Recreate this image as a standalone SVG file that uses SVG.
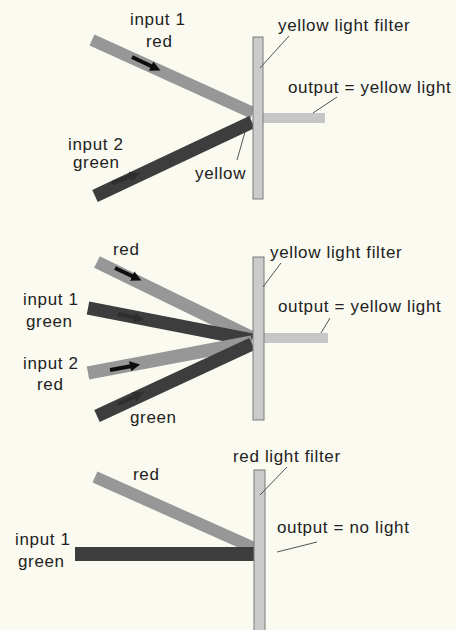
<svg xmlns="http://www.w3.org/2000/svg" width="456" height="630" viewBox="0 0 456 630">
<defs>
<style>
text{font-family:"Liberation Sans",Arial,sans-serif;font-size:17px;letter-spacing:0.65px;fill:#222}
.red{stroke:#979797;stroke-width:12;fill:none}
.grn{stroke:#3c3c3c;stroke-width:13;fill:none}
.out{stroke:#c6c6c6;stroke-width:10;fill:none}
.filter{fill:#cbcbcb;stroke:#7a7a7a;stroke-width:1}
.lead{stroke:#555;stroke-width:1;fill:none}
.arr{stroke:#111;stroke-width:4;fill:none;marker-end:url(#ah)}
.arrd{stroke:#2e2e2e;stroke-width:4;fill:none;marker-end:url(#ahd)}
</style>
<marker id="ah" viewBox="0 0 10 10" refX="2" refY="5" markerWidth="2.6" markerHeight="2.6" orient="auto"><path d="M0,0 L10,5 L0,10 z" fill="#111"/></marker>
<marker id="ahd" viewBox="0 0 10 10" refX="2" refY="5" markerWidth="2.6" markerHeight="2.6" orient="auto"><path d="M0,0 L10,5 L0,10 z" fill="#2e2e2e"/></marker>
<filter id="soft" x="-10%" y="-10%" width="120%" height="120%"><feGaussianBlur stdDeviation="0.7"/></filter>
</defs>
<rect width="456" height="630" fill="#fafaf0"/>

<g id="connectors" filter="url(#soft)">
<line class="red" x1="92" y1="40" x2="253" y2="113"/>
<line class="grn" x1="95" y1="196" x2="252" y2="122"/>
<line class="out" x1="263" y1="118" x2="325" y2="118"/>
<line class="arr" x1="132" y1="57" x2="153" y2="67"/>
<line class="arrd" x1="112" y1="183" x2="132" y2="176"/>
<line class="red" x1="97" y1="262" x2="253" y2="338" style="stroke-width:13"/>
<line class="grn" x1="88" y1="308" x2="252" y2="340"/>
<line class="red" x1="88" y1="373" x2="252" y2="342" style="stroke-width:13"/>
<line class="grn" x1="97" y1="416" x2="252" y2="344"/>
<line class="out" x1="264" y1="338" x2="328" y2="338"/>
<line class="arr" x1="115" y1="268" x2="134" y2="277"/>
<line class="arr" x1="110" y1="370" x2="132" y2="366"/>
<line class="arrd" x1="118" y1="314" x2="136" y2="318"/>
<line class="arrd" x1="118" y1="404" x2="136" y2="396"/>
<line class="red" x1="95" y1="477" x2="254" y2="548"/>
<line class="grn" x1="75" y1="554" x2="254" y2="554" style="stroke-width:14"/>
</g>

<g id="filter1"><rect class="filter" x="253" y="37" width="10" height="162"/></g>
<g id="filter2"><rect class="filter" x="253" y="257" width="11" height="163"/></g>
<g id="filter3"><rect class="filter" x="254" y="470" width="11" height="170"/></g>

<g id="labels1">
<text x="130" y="25">input 1</text>
<text x="146" y="47">red</text>
<text x="278" y="31">yellow light filter</text>
<line class="lead" x1="289" y1="36" x2="260" y2="68"/>
<text x="288" y="93">output = yellow light</text>
<line class="lead" x1="337" y1="97" x2="313" y2="113"/>
<text x="68" y="150">input 2</text>
<text x="73" y="168">green</text>
<text x="195" y="179">yellow</text>
<line class="lead" x1="237" y1="160" x2="245" y2="132"/>
</g>

<g id="labels2">
<text x="113" y="255">red</text>
<text x="270" y="258">yellow light filter</text>
<line class="lead" x1="281" y1="263" x2="263" y2="287"/>
<text x="23" y="305">input 1</text>
<text x="26" y="327">green</text>
<text x="278" y="312">output = yellow light</text>
<line class="lead" x1="330" y1="318" x2="321" y2="333"/>
<text x="23" y="369">input 2</text>
<text x="37" y="390">red</text>
<text x="130" y="423">green</text>
</g>

<g id="labels3">
<text x="233" y="462">red light filter</text>
<line class="lead" x1="287" y1="467" x2="260" y2="495"/>
<text x="133" y="480">red</text>
<text x="15" y="545">input 1</text>
<text x="18" y="567">green</text>
<text x="277" y="533">output = no light</text>
<line class="lead" x1="317" y1="542" x2="277" y2="552"/>
</g>
</svg>
